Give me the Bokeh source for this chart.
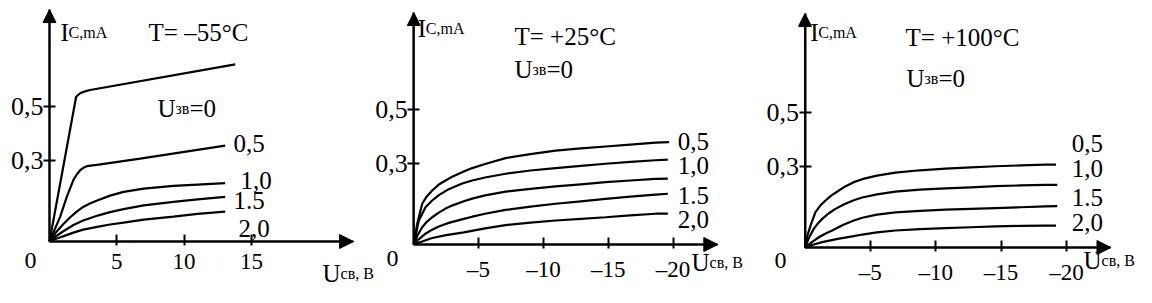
from bokeh.plotting import figure
from bokeh.models import Range1d, FixedTicker, Label, Arrow, NormalHead
from bokeh.layouts import row
from bokeh.embed import file_html
from bokeh.resources import INLINE

FONT = "Liberation Serif"

# ---------------- data ----------------
# Panel 1: T = -55 °C, x = U_CB (V), y = I_C (mA)
p1_title = "T= \u201355\u00b0C"
p1_xticks = [5, 10, 15]
p1_yticks = [0.3, 0.5]
p1_u00_x = [0, 1.98, 2.3, 2.7, 3.02, 13.8]
p1_u00_y = [0, 0.536, 0.550, 0.557, 0.561, 0.656]
p1_u05_x = [0, 0.79, 1.29, 1.78, 2.05, 2.28, 2.55, 2.78, 3.2, 3.64, 6.74, 13.05]
p1_u05_y = [0, 0.091, 0.166, 0.228, 0.250, 0.264, 0.274, 0.279, 0.282, 0.285, 0.307, 0.355]
p1_u10_x = [0, 0.5, 1.0, 1.5, 2.0, 2.5, 3.0, 3.64, 4.5, 5.5, 7.0, 9.21, 11.0, 13.05]
p1_u10_y = [0, 0.035, 0.063, 0.088, 0.110, 0.128, 0.141, 0.154, 0.170, 0.184, 0.196, 0.206, 0.211, 0.216]
p1_u15_x = [0, 0.5, 1.0, 1.78, 2.5, 3.64, 4.5, 5.5, 7.0, 9.21, 11.0, 13.05]
p1_u15_y = [0, 0.020, 0.037, 0.061, 0.078, 0.097, 0.109, 0.120, 0.134, 0.147, 0.156, 0.165]
p1_u20_x = [0, 0.5, 1.0, 1.78, 2.5, 3.64, 4.5, 5.5, 7.0, 9.21, 11.0, 13.05]
p1_u20_y = [0, 0.010, 0.019, 0.033, 0.044, 0.055, 0.063, 0.070, 0.081, 0.092, 0.102, 0.111]
p1_curve_labels = ["0,5", "1,0", "1.5", "2,0"]
p1_label_x = [13.67, 14.19, 13.67, 14.04]
p1_label_y = [0.363, 0.226, 0.152, 0.048]

# Panel 2: T = +25 °C
p2_title = "T= +25\u00b0C"
p2_xticks = [-5, -10, -15, -20]
p2_yticks = [0.3, 0.5]
p2_c1_x = [0, -0.26, -0.65, -1.0, -1.42, -1.93, -2.45, -3.0, -3.73, -4.51, -5.5, -7.08,
           -9.0, -10.94, -12.9, -14.8, -16.7, -18.65, -19.7]
p2_c1_y = [0, 0.077, 0.151, 0.178, 0.200, 0.222, 0.237, 0.252, 0.268, 0.283, 0.298, 0.320,
           0.335, 0.348, 0.356, 0.363, 0.370, 0.377, 0.379]
p2_c2_x = [0, -0.39, -0.9, -1.42, -1.93, -2.7, -3.73, -4.51, -5.5, -7.08, -9.0, -10.94,
           -12.9, -14.8, -16.7, -18.65, -19.6]
p2_c2_y = [0, 0.089, 0.138, 0.163, 0.183, 0.205, 0.226, 0.237, 0.248, 0.262, 0.274, 0.283,
           0.291, 0.299, 0.306, 0.312, 0.314]
p2_c3_x = [0, -0.3, -0.65, -1.0, -1.42, -1.93, -2.45, -3.0, -3.86, -4.51, -5.5, -7.08, -9.0,
           -10.94, -12.9, -14.8, -16.7, -18.65, -19.6]
p2_c3_y = [0, 0.035, 0.064, 0.084, 0.101, 0.118, 0.133, 0.145, 0.160, 0.170, 0.182, 0.196, 0.206,
           0.215, 0.223, 0.231, 0.237, 0.243, 0.244]
p2_c4_x = [0, -0.45, -0.9, -1.42, -1.93, -2.7, -3.86, -4.51, -5.5, -7.08, -9.0, -10.94, -12.9,
           -14.8, -16.7, -18.65, -19.6]
p2_c4_y = [0, 0.022, 0.040, 0.055, 0.067, 0.080, 0.095, 0.103, 0.114, 0.128, 0.140, 0.151, 0.160,
           0.169, 0.177, 0.185, 0.188]
p2_c5_x = [0, -0.7, -1.42, -2.5, -3.86, -5.5, -7.08, -9.0, -10.94, -12.9, -14.8, -16.7, -18.65, -19.6]
p2_c5_y = [0, 0.012, 0.024, 0.035, 0.045, 0.060, 0.072, 0.081, 0.089, 0.095, 0.101, 0.108, 0.114, 0.114]
p2_curve_labels = ["0,5", "1,0", "1.5", "2,0"]
p2_label_x = [-20.37, -20.37, -20.37, -20.37]
p2_label_y = [0.382, 0.293, 0.181, 0.093]

# Panel 3: T = +100 °C
p3_title = "T= +100\u00b0C"
p3_xticks = [-5, -10, -15, -20]
p3_yticks = [0.3, 0.5]
p3_c1_x = [0, -0.2, -0.42, -0.8, -1.2, -1.57, -2.0, -2.59, -3.15, -3.73, -4.38, -5.5, -6.92,
           -8.8, -10.75, -12.7, -14.58, -16.5, -18.4, -19.2]
p3_c1_y = [0, 0.047, 0.081, 0.131, 0.157, 0.174, 0.192, 0.211, 0.228, 0.242, 0.253, 0.266, 0.277,
           0.286, 0.292, 0.297, 0.301, 0.304, 0.307, 0.307]
p3_c2_x = [0, -0.3, -0.67, -1.0, -1.32, -1.8, -2.33, -3.0, -3.73, -4.38, -5.5, -6.92, -8.8,
           -10.75, -12.7, -14.58, -16.5, -18.4, -19.3]
p3_c2_y = [0, 0.036, 0.069, 0.090, 0.106, 0.126, 0.143, 0.160, 0.175, 0.185, 0.197, 0.207, 0.214,
           0.219, 0.223, 0.227, 0.230, 0.232, 0.232]
p3_c3_x = [0, -0.5, -1.06, -1.5, -2.08, -2.9, -3.73, -4.38, -5.5, -6.92, -8.8, -10.75, -12.7,
           -14.58, -16.5, -18.4, -19.3]
p3_c3_y = [0, 0.019, 0.038, 0.050, 0.063, 0.083, 0.100, 0.110, 0.122, 0.130, 0.136, 0.140, 0.143,
           0.146, 0.149, 0.152, 0.153]
p3_c4_x = [0, -0.6, -1.32, -2.5, -3.73, -4.38, -5.5, -6.92, -8.8, -10.75, -12.7, -14.58, -16.5,
           -18.4, -19.2]
p3_c4_y = [0, 0.010, 0.020, 0.032, 0.042, 0.048, 0.056, 0.063, 0.068, 0.072, 0.075, 0.078, 0.080,
           0.081, 0.081]
p3_curve_labels = ["0,5", "1,0", "1.5", "2,0"]
p3_label_x = [-20.41, -20.41, -20.41, -20.41]
p3_label_y = [0.387, 0.293, 0.185, 0.093]


def fmt_tick(v):
    s = ("%g" % abs(v)).replace(".", ",")
    return ("\u2013" + s) if v < 0 else s


def add_text(p, x, y, parts, align="left"):
    # parts: list of (text, size_px, x_offset_px); y is the vertical middle of the text
    for txt, size, dx in parts:
        p.add_layout(Label(x=x, y=y, text=txt, x_offset=dx,
                           text_font=FONT, text_font_size=f"{size}px",
                           text_color="black", text_align=align,
                           text_baseline="middle"))


def make_panel(width, xr, yr, x_tip, y_tip, xticks, yticks,
               curves, title, title_xy, ylab_xy, uzv_xy, zero_xy, ulab_xy,
               clabels, clx, cly):
    p = figure(width=width, height=303, output_backend="svg",
               toolbar_location=None, tools="",
               x_range=Range1d(*xr), y_range=Range1d(*yr),
               min_border_left=0, min_border_right=0,
               min_border_top=0, min_border_bottom=0)
    p.outline_line_color = None
    p.grid.visible = False
    p.background_fill_color = "white"
    p.border_fill_color = "white"

    for ax in (p.xaxis[0], p.yaxis[0]):
        ax.fixed_location = 0
        ax.axis_line_color = "black"
        ax.axis_line_width = 2
        ax.major_tick_line_color = "black"
        ax.major_tick_line_width = 2
        ax.minor_tick_line_color = None
        ax.major_label_text_font = FONT
        ax.major_label_text_color = "black"
    p.xaxis.major_label_text_font_size = "23px"
    p.yaxis.major_label_text_font_size = "26px"
    p.xaxis.bounds = (min(0, x_tip), max(0, x_tip))
    p.yaxis.bounds = (0, y_tip)
    p.xaxis.ticker = FixedTicker(ticks=xticks)
    p.xaxis.major_label_overrides = {v: fmt_tick(v) for v in xticks}
    p.xaxis.major_tick_in = 7
    p.xaxis.major_tick_out = 4
    p.xaxis.major_label_standoff = 8
    p.yaxis.ticker = FixedTicker(ticks=yticks)
    p.yaxis.major_label_overrides = {v: fmt_tick(v) for v in yticks}
    p.yaxis.major_tick_in = 6
    p.yaxis.major_tick_out = 6
    p.yaxis.major_label_standoff = 0
    p.yaxis.major_label_orientation = "horizontal"

    # arrow heads at the ends of both axes
    p.add_layout(Arrow(end=NormalHead(size=14, fill_color="black", line_color="black"),
                       x_start=0, y_start=0, x_end=x_tip, y_end=0,
                       line_color="black", line_width=2))
    p.add_layout(Arrow(end=NormalHead(size=13, fill_color="black", line_color="black"),
                       x_start=0, y_start=0, x_end=0, y_end=y_tip,
                       line_color="black", line_width=2))

    for cx, cy in curves:
        p.line(cx, cy, line_color="black", line_width=2.2)

    for t, lx, ly in zip(clabels, clx, cly):
        add_text(p, lx, ly, [(t, 25, 0)])

    add_text(p, title_xy[0], title_xy[1], [(title, 25, 0)])
    add_text(p, ylab_xy[0], ylab_xy[1], [("I", 25, 0), ("C,mA", 16, 8)])
    add_text(p, uzv_xy[0], uzv_xy[1], [("U", 25, 0), ("\u0437\u0432", 16, 18), ("=0", 25, 32)])
    add_text(p, zero_xy[0], zero_xy[1], [("0", 24, 0)], align="center")
    add_text(p, ulab_xy[0], ulab_xy[1], [("U", 25, 0), ("\u0441\u0432, \u0412", 16, 18)])
    return p


p1 = make_panel(374, (-3.640, 24.146), (-0.2296, 0.8926), 22.59, 0.859,
                p1_xticks, p1_yticks,
                [(p1_u00_x, p1_u00_y), (p1_u05_x, p1_u05_y), (p1_u10_x, p1_u10_y),
                 (p1_u15_x, p1_u15_y), (p1_u20_x, p1_u20_y)],
                p1_title, (7.36, 0.775), (0.82, 0.775), (8.02, 0.494),
                (-1.41, -0.070), (20.29, -0.117),
                p1_curve_labels, p1_label_x, p1_label_y)

p2 = make_panel(384, (3.032, -26.597), (-0.2185, 0.9037), -23.46, 0.859,
                p2_xticks, p2_yticks,
                [(p2_c1_x, p2_c1_y), (p2_c2_x, p2_c2_y), (p2_c3_x, p2_c3_y),
                 (p2_c4_x, p2_c4_y), (p2_c5_x, p2_c5_y)],
                p2_title, (-7.77, 0.771), (-0.31, 0.801), (-7.77, 0.649),
                (1.64, -0.052), (-21.43, -0.065),
                p2_curve_labels, p2_label_x, p2_label_y)

p3 = make_panel(394, (3.558, -26.587), (-0.2074, 0.9148), -23.41, 0.867,
                p3_xticks, p3_yticks,
                [(p3_c1_x, p3_c1_y), (p3_c2_x, p3_c2_y), (p3_c3_x, p3_c3_y),
                 (p3_c4_x, p3_c4_y)],
                p3_title, (-7.69, 0.779), (-0.40, 0.798), (-7.76, 0.626),
                (1.87, -0.048), (-21.31, -0.048),
                p3_curve_labels, p3_label_x, p3_label_y)

layout = row(p1, p2, p3)
open("out.html", "w").write(file_html(layout, INLINE))
